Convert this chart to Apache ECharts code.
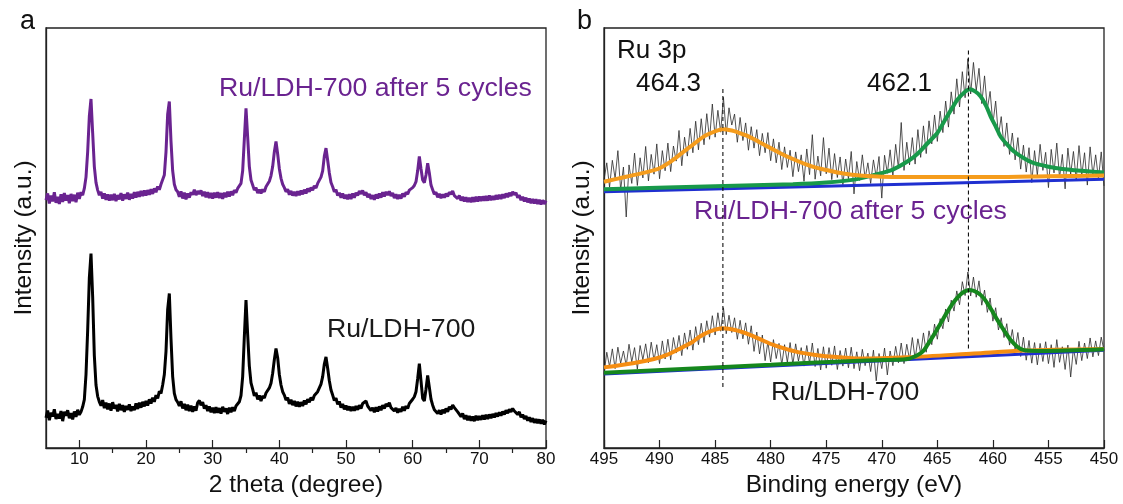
<!DOCTYPE html>
<html>
<head>
<meta charset="utf-8">
<script src="https://cdn.jsdelivr.net/npm/echarts@6/dist/echarts.min.js"></script>
<style>
  html, body { margin: 0; padding: 0; background: #fff; }
  #chart { width: 1123px; height: 504px; }
</style>
</head>
<body>
<div id="chart"></div>
<script type="text/javascript">
// ---- panel a: XRD, 2 theta from 5 to 80 every 0.25 deg (intensity in % of plot height)
var xrdStart = 5, xrdStep = 0.25;
var xrdAfter = [
  59.0, 60.6, 58.2, 60.1, 58.7, 60.9, 58.4, 59.8, 58.1, 60.4, 58.6, 60.7, 58.9, 60.2, 58.3, 60.5, 58.8, 60.3, 58.5, 60.8,
  59.3, 60.9, 60.2, 61.8, 64.5, 70.5, 79.0, 83.1, 75.0, 67.0, 63.2, 61.4, 60.2, 61.0, 59.4, 60.6, 59.1, 60.4, 58.9, 60.3,
  59.0, 60.5, 58.8, 60.2, 59.2, 60.7, 58.9, 60.4, 59.3, 60.8, 59.1, 60.5, 59.4, 60.9, 59.6, 61.0, 59.8, 61.2, 60.0, 61.3,
  60.1, 61.4, 60.3, 61.6, 60.5, 61.8, 60.9, 62.3, 61.5, 62.8, 62.6, 65.0, 70.5, 79.5, 82.5, 73.0, 66.0, 62.8, 61.5, 61.0,
  59.8, 61.1, 59.4, 60.8, 59.2, 60.6, 59.6, 60.9, 60.3, 61.5, 60.2, 61.2, 60.5, 61.3, 60.0, 61.0, 59.7, 60.9, 59.5, 60.7,
  59.4, 60.8, 59.6, 60.9, 59.5, 60.7, 59.3, 60.8, 59.7, 61.0, 59.9, 61.1, 60.2, 61.4, 60.8, 61.8, 61.6, 63.0, 66.0, 73.5,
  80.9, 74.0, 67.0, 63.8, 62.6, 61.4, 62.0, 60.7, 61.5, 60.6, 61.6, 61.0, 62.2, 62.3, 63.5, 64.8, 67.0, 70.5, 73.0, 70.0,
  66.5, 64.2, 62.8, 62.0, 61.0, 61.6, 60.3, 61.2, 60.1, 61.0, 60.0, 61.1, 60.2, 61.3, 60.4, 61.5, 60.6, 61.8, 61.0, 62.0,
  61.4, 62.4, 61.9, 63.0, 63.2, 64.5, 66.0, 69.5, 71.4, 68.5, 65.5, 63.2, 62.2, 61.0, 61.5, 60.1, 60.8, 59.6, 60.6, 59.4,
  60.3, 59.2, 60.4, 59.3, 60.6, 59.6, 60.8, 60.1, 61.2, 60.5, 61.3, 60.2, 60.9, 59.7, 60.5, 59.3, 60.2, 59.1, 60.4, 59.4,
  60.6, 59.6, 60.9, 59.9, 61.0, 60.2, 61.1, 60.0, 60.7, 59.5, 60.4, 59.3, 60.3, 59.4, 60.6, 59.8, 60.9, 60.4, 61.4, 61.3,
  62.0, 62.5, 63.4, 66.0, 69.4, 66.5, 63.8, 63.2, 65.0, 67.8, 65.5, 62.6, 61.5, 60.4, 60.9, 59.7, 60.5, 59.5, 60.4, 59.6,
  60.6, 59.9, 60.9, 60.4, 61.2, 60.1, 60.5, 59.4, 60.1, 58.9, 59.8, 58.7, 59.7, 58.6, 59.6, 58.5, 59.7, 58.6, 59.8, 58.7,
  59.9, 58.8, 59.9, 58.9, 60.0, 58.9, 60.1, 59.0, 60.0, 59.1, 60.2, 59.2, 60.3, 59.3, 60.4, 59.5, 60.6, 59.7, 60.8, 60.0,
  61.0, 60.3, 60.8, 59.6, 60.2, 59.0, 59.8, 58.7, 59.6, 58.5, 59.4, 58.3, 59.3, 58.2, 59.2, 58.1, 59.1, 58.0, 59.0, 58.1,
  58.9
];
var xrdFresh = [
  7.2, 8.9, 6.6, 8.4, 7.5, 9.2, 6.9, 8.1, 7.0, 8.8, 6.4, 8.6, 7.7, 9.0, 7.1, 8.3, 6.8, 8.7, 7.4, 9.1,
  7.9, 8.6, 9.8, 11.5, 17.5, 28.0, 40.5, 46.3, 36.0, 22.0, 15.0, 12.3, 11.0, 10.1, 11.4, 9.5, 10.8, 9.2, 10.6, 8.9,
  10.9, 9.4, 10.3, 8.7, 10.5, 9.0, 10.2, 8.6, 10.0, 9.1, 10.4, 8.8, 9.9, 9.0, 10.6, 9.3, 10.8, 9.6, 11.0, 9.9,
  11.2, 10.1, 11.6, 10.6, 12.0, 11.0, 12.6, 11.8, 13.5, 13.0, 15.0, 17.5, 23.0, 33.0, 36.8, 26.0, 17.0, 13.0, 11.5, 10.9,
  10.0, 11.1, 9.4, 10.5, 9.0, 10.3, 8.8, 10.1, 8.6, 9.9, 8.9, 10.8, 11.3, 10.2, 10.9, 9.4, 10.2, 8.8, 9.9, 8.5,
  9.6, 8.3, 9.7, 8.4, 9.5, 8.2, 9.8, 8.6, 9.4, 8.1, 9.6, 8.5, 9.7, 8.8, 10.0, 9.6, 11.0, 12.5, 17.0, 26.5,
  35.2, 27.0, 19.5, 15.5, 14.0, 12.4, 13.2, 11.6, 12.5, 11.2, 12.4, 11.9, 13.1, 13.0, 14.3, 15.4, 17.8, 21.0, 23.7, 21.5,
  17.5, 15.0, 13.4, 12.6, 11.4, 12.0, 10.5, 11.5, 10.2, 11.2, 9.9, 11.0, 9.8, 10.9, 10.0, 11.3, 10.4, 11.6, 10.9, 12.0,
  11.4, 12.5, 12.2, 13.4, 13.8, 15.2, 17.0, 20.0, 21.7, 19.0, 16.0, 13.8, 12.6, 11.3, 11.9, 10.4, 11.1, 9.6, 10.5, 9.2,
  10.1, 9.0, 9.9, 8.8, 9.8, 8.9, 10.0, 9.1, 10.2, 9.4, 10.6, 10.3, 11.2, 10.0, 10.4, 8.9, 9.6, 8.5, 9.7, 8.7,
  9.9, 9.0, 10.2, 9.4, 10.5, 9.9, 10.8, 9.6, 10.0, 8.8, 9.5, 8.4, 9.3, 8.6, 9.8, 8.9, 10.0, 9.4, 10.6, 10.5,
  11.6, 12.2, 13.4, 16.5, 20.1, 16.0, 11.8, 11.2, 14.0, 17.3, 14.5, 11.6, 10.2, 9.1, 9.3, 8.2, 9.0, 8.0, 9.1, 8.3,
  9.4, 8.6, 9.8, 9.2, 10.2, 9.6, 10.0, 8.6, 8.9, 7.5, 8.2, 6.9, 7.8, 6.6, 7.6, 6.5, 7.5, 6.4, 7.7, 6.6,
  7.6, 6.7, 7.8, 6.8, 7.9, 6.9, 8.0, 7.1, 8.1, 7.3, 8.3, 7.5, 8.5, 7.7, 8.7, 8.0, 9.0, 8.3, 9.2, 8.6,
  9.4, 8.8, 9.1, 8.0, 8.6, 7.3, 8.0, 6.9, 7.6, 6.5, 7.3, 6.2, 7.1, 6.0, 6.9, 5.9, 6.8, 5.8, 6.7, 5.6,
  6.5
];
var xrdMajorTicks = [10, 20, 30, 40, 50, 60, 70, 80];
var xrdMinorTicks = [15, 25, 35, 45, 55, 65, 75];

// ---- panel b: XPS Ru 3p, binding energy from 495 down to 450 every 0.25 eV
var xpsStart = 495, xpsStep = -0.25;
var xpsAfter = [
  63.8, 67.9, 62.1, 68.5, 64.2, 70.8, 61.5, 66.9, 55.0, 67.4, 63.0, 70.2, 62.5, 69.1, 64.3, 71.8, 63.6, 69.9, 65.2, 72.4,
  64.1, 70.8, 66.0, 72.6, 65.8, 71.9, 68.3, 75.6, 67.2, 74.0, 69.5, 76.1, 70.3, 77.8, 71.0, 78.4, 72.2, 79.6, 73.5, 81.9,
  74.0, 80.4, 75.2, 83.5, 74.6, 81.0, 76.9, 79.5, 72.8, 78.7, 73.2, 77.4, 70.9, 76.5, 71.4, 75.8, 69.6, 74.9, 70.3, 75.1,
  68.4, 73.6, 67.9, 72.8, 66.3, 71.7, 66.8, 70.9, 64.6, 70.5, 65.8, 69.8, 63.5, 71.2, 65.1, 74.6, 64.0, 69.5, 64.8, 73.9,
  65.3, 71.4, 63.9, 70.1, 64.4, 69.3, 62.7, 68.8, 64.1, 70.6, 60.5, 68.2, 63.7, 69.8, 64.2, 67.9, 63.0, 68.6, 64.5, 69.4,
  59.5, 69.7, 65.4, 71.0, 64.8, 72.3, 66.6, 77.5, 66.1, 72.8, 67.4, 73.9, 67.6, 75.8, 69.2, 76.7, 70.1, 77.9, 72.4, 79.3,
  73.0, 80.2, 75.1, 82.6, 76.4, 84.8, 79.5, 87.9, 81.2, 89.6, 83.4, 92.7, 84.3, 91.8, 85.1, 90.4, 82.0, 88.6, 80.7, 84.9,
  77.2, 82.6, 74.3, 78.9, 71.8, 77.4, 69.9, 75.0, 68.6, 73.9, 66.4, 72.1, 65.7, 71.5, 63.2, 70.8, 64.9, 72.3, 66.1, 70.4,
  62.0, 71.1, 65.5, 72.6, 64.3, 69.9, 61.7, 71.4, 65.2, 70.6, 63.8, 72.0, 64.9, 70.3, 62.6, 71.7, 65.0, 69.8, 64.1, 70.5,
  62.4
];
var xpsFresh = [
  17.5, 22.8, 19.4, 23.6, 18.9, 24.0, 20.2, 23.1, 19.6, 24.7, 20.5, 23.9, 18.8, 24.4, 21.0, 24.8, 20.3, 25.2, 20.9, 24.6,
  20.1, 25.5, 21.2, 25.9, 21.0, 26.3, 22.6, 26.8, 22.0, 27.4, 23.5, 28.1, 23.3, 28.9, 24.6, 29.7, 25.1, 30.3, 26.4, 31.5,
  26.9, 32.2, 27.8, 33.4, 27.2, 31.6, 27.5, 31.0, 25.9, 30.4, 26.0, 29.8, 24.7, 29.1, 23.0, 27.6, 22.4, 26.9, 20.8, 25.3,
  20.5, 25.8, 21.3, 24.9, 19.8, 24.6, 20.4, 25.1, 19.9, 24.8, 20.7, 23.9, 19.5, 24.4, 20.2, 25.0, 19.4, 23.7, 18.6, 24.1,
  19.0, 23.9, 19.7, 24.3, 18.7, 23.2, 19.5, 23.8, 19.1, 24.0, 18.9, 22.9, 18.4, 23.5, 19.6, 22.6, 18.2, 23.3, 16.0, 22.5,
  18.9, 23.8, 17.4, 23.1, 19.6, 24.2, 20.3, 25.0, 20.1, 24.7, 21.0, 26.3, 21.2, 26.0, 22.5, 27.4, 22.8, 27.9, 24.6, 29.5,
  25.9, 30.8, 28.4, 33.1, 30.0, 35.2, 32.6, 37.4, 34.1, 39.6, 36.3, 41.9, 36.2, 40.7, 35.9, 39.8, 34.0, 37.6, 32.3, 35.7,
  30.2, 33.4, 28.1, 31.0, 26.3, 29.6, 24.5, 28.2, 23.4, 27.5, 21.8, 26.4, 20.9, 25.6, 20.2, 25.1, 19.8, 24.9, 20.6, 25.3,
  20.1, 24.6, 19.2, 25.8, 20.4, 24.1, 18.7, 24.5, 16.9, 23.8, 19.9, 25.4, 20.8, 25.0, 21.3, 26.2, 21.7, 25.5, 22.0, 26.4,
  23.2
];
// fitted components, [binding energy, intensity]
var fitAfterBase = [[495, 61.0], [450, 64.0]];
var fitAfterPeak1 = [[495, 63.4], [493, 64.6], [491, 65.8], [490, 66.6], [489, 68.2], [488, 70.2], [487, 72.2], [486, 74.2],
  [485, 75.4], [484.3, 75.9], [483.5, 75.6], [483, 75.2], [482, 74.2], [481, 72.8], [480, 71.4], [479, 70.0], [478, 68.8],
  [477, 67.7], [476, 66.8], [475, 66.2], [474, 65.6], [473, 65.2], [472, 64.9], [470, 64.6], [465, 64.5], [460, 64.5],
  [455, 64.7], [450, 64.9]];
var fitAfterPeak2 = [[495, 61.6], [485, 62.3], [478, 62.8], [475, 63.2], [472.5, 63.9], [470.7, 65.0], [469, 66.3],
  [467.7, 68.2], [466.8, 70.0], [465.9, 72.5], [465, 75.0], [464.4, 77.7], [463.7, 80.8], [463.2, 82.9], [462.6, 84.6],
  [462.1, 85.4], [461.6, 84.9], [461.1, 83.7], [460.6, 81.4], [460.2, 78.9], [459.7, 76.3], [459.3, 74.1], [458.7, 72.2],
  [458.1, 70.6], [457.2, 69.0], [456.3, 67.8], [455.2, 67.1], [454.2, 66.6], [452.1, 66.0], [450, 65.6]];
var fitFreshBase = [[495, 17.6], [450, 23.3]];
var fitFreshPeak1 = [[495, 19.2], [492.4, 20.2], [490.5, 21.2], [489.4, 22.1], [488, 23.9], [487, 25.3], [486.4, 26.5],
  [485.4, 27.8], [484.3, 28.5], [483.2, 28.1], [481.8, 26.9], [480.7, 25.6], [479.7, 24.5], [478.5, 23.5], [477.3, 22.7],
  [475.8, 22.1], [474.3, 21.7], [471.9, 21.3], [467.7, 21.6], [461.7, 22.5], [457.2, 23.2], [450, 23.6]];
var fitFreshPeak2 = [[495, 17.9], [480, 19.8], [473.7, 20.6], [469, 21.0], [467.7, 21.2], [466.8, 22.1], [466.3, 23.0],
  [465.9, 24.5], [465.3, 27.0], [464.7, 29.7], [464.1, 32.4], [463.5, 34.8], [462.8, 36.8], [462.1, 37.6], [461.4, 37.0],
  [460.8, 35.6], [460.2, 33.2], [459.6, 30.5], [459, 28.0], [458.4, 25.7], [457.8, 24.1], [457.2, 23.3], [455.7, 23.1],
  [450, 23.5]];
var peakLines = [484.3, 462.2];
var peakLineSpan = [[14.5, 85.5], [23.7, 94.8]];

var font = 'Liberation Sans, Arial, Helvetica, sans-serif';
var purple = '#6a2390';

function toPairs(vals, start, step) {
  return vals.map(function (v, i) { return [start + i * step, v]; });
}

var chart = echarts.init(document.getElementById('chart'));

var axisTitle = { fontFamily: font, fontSize: 24.5, color: '#111' };
var yAxisCommon = {
  type: 'value', min: 0, max: 100,
  name: 'Intensity (a.u.)', nameLocation: 'middle', nameGap: 9, nameTextStyle: axisTitle,
  axisLine: { show: true, lineStyle: { color: '#222', width: 1.3 } },
  axisTick: { show: false }, axisLabel: { show: false }, splitLine: { show: false }
};

var dashSeries = peakLines.map(function (x, i) {
  return {
    type: 'line', xAxisIndex: 2, yAxisIndex: 1, symbol: 'none', z: 5,
    data: [[x, peakLineSpan[i][0]], [x, peakLineSpan[i][1]]],
    lineStyle: { color: '#111', width: 1.1, type: [4, 3] }
  };
});

var option = {
  animation: false,
  backgroundColor: '#fff',
  grid: [
    { left: 46, right: 577, top: 28, height: 420, show: true, borderColor: '#222', borderWidth: 1.3 },
    { left: 604, right: 19, top: 28, height: 420, show: true, borderColor: '#222', borderWidth: 1.3 }
  ],
  xAxis: [
    {
      type: 'value', gridIndex: 0, min: 5, max: 80, interval: 5,
      name: '2 theta (degree)', nameLocation: 'middle', nameGap: 21, nameTextStyle: axisTitle,
      axisLine: { show: true, onZero: false, lineStyle: { color: '#222', width: 1.3 } },
      axisTick: { inside: true, length: 8, customValues: xrdMajorTicks, lineStyle: { color: '#222', width: 1.2 } },
      axisLabel: { customValues: xrdMajorTicks, margin: 3, fontFamily: font, fontSize: 17, color: '#111' },
      splitLine: { show: false }
    },
    {
      type: 'value', gridIndex: 0, min: 5, max: 80, interval: 5,
      axisLine: { show: false },
      axisTick: { inside: true, length: 5, customValues: xrdMinorTicks, lineStyle: { color: '#222', width: 1.2 } },
      axisLabel: { show: false }, splitLine: { show: false }
    },
    {
      type: 'value', gridIndex: 1, min: 450, max: 495, interval: 5, inverse: true,
      name: 'Binding energy (eV)', nameLocation: 'middle', nameGap: 21, nameTextStyle: axisTitle,
      axisLine: { show: true, onZero: false, lineStyle: { color: '#222', width: 1.3 } },
      axisTick: { inside: true, length: 8, lineStyle: { color: '#222', width: 1.2 } },
      axisLabel: { margin: 3, fontFamily: font, fontSize: 17, color: '#111',
        showMinLabel: true, showMaxLabel: true },
      splitLine: { show: false }
    }
  ],
  yAxis: [
    Object.assign({ gridIndex: 0 }, yAxisCommon),
    Object.assign({ gridIndex: 1 }, yAxisCommon)
  ],
  series: [
    { type: 'line', xAxisIndex: 0, yAxisIndex: 0, symbol: 'none', data: toPairs(xrdAfter, xrdStart, xrdStep),
      lineStyle: { color: purple, width: 3 } },
    { type: 'line', xAxisIndex: 0, yAxisIndex: 0, symbol: 'none', data: toPairs(xrdFresh, xrdStart, xrdStep),
      lineStyle: { color: '#000', width: 3 } },

    { type: 'line', xAxisIndex: 2, yAxisIndex: 1, symbol: 'none', data: toPairs(xpsAfter, xpsStart, xpsStep),
      lineStyle: { color: '#2a2a2a', width: 0.8 } },
    { type: 'line', xAxisIndex: 2, yAxisIndex: 1, symbol: 'none', data: toPairs(xpsFresh, xpsStart, xpsStep),
      lineStyle: { color: '#2a2a2a', width: 0.8 } },

    { type: 'line', xAxisIndex: 2, yAxisIndex: 1, symbol: 'none', data: fitAfterBase, z: 3,
      lineStyle: { color: '#1f2fd0', width: 3 } },
    { type: 'line', xAxisIndex: 2, yAxisIndex: 1, symbol: 'none', data: fitAfterPeak2, smooth: 0.3, z: 3,
      lineStyle: { color: '#18994a', width: 4 } },
    { type: 'line', xAxisIndex: 2, yAxisIndex: 1, symbol: 'none', data: fitAfterPeak1, smooth: 0.3, z: 4,
      lineStyle: { color: '#f59c1c', width: 4 } },

    { type: 'line', xAxisIndex: 2, yAxisIndex: 1, symbol: 'none', data: fitFreshBase, z: 3,
      lineStyle: { color: '#1f2fd0', width: 3 } },
    { type: 'line', xAxisIndex: 2, yAxisIndex: 1, symbol: 'none', data: fitFreshPeak1, smooth: 0.3, z: 3,
      lineStyle: { color: '#f58d12', width: 4 } },
    { type: 'line', xAxisIndex: 2, yAxisIndex: 1, symbol: 'none', data: fitFreshPeak2, smooth: 0.3, z: 4,
      lineStyle: { color: '#15871d', width: 4 } }
  ].concat(dashSeries),
  graphic: [
    { type: 'text', x: 20, y: 22, style: { text: 'a', font: '27px ' + font, fill: '#111', verticalAlign: 'middle' } },
    { type: 'text', x: 577, y: 22, style: { text: 'b', font: '27px ' + font, fill: '#111', verticalAlign: 'middle' } },
    { type: 'text', x: 219, y: 89, style: { text: 'Ru/LDH-700 after 5 cycles', font: '26.7px ' + font, fill: purple, verticalAlign: 'middle' } },
    { type: 'text', x: 327, y: 330, style: { text: 'Ru/LDH-700', font: '26.7px ' + font, fill: '#1a1a1a', verticalAlign: 'middle' } },
    { type: 'text', x: 617, y: 51, style: { text: 'Ru 3p', font: '26px ' + font, fill: '#111', verticalAlign: 'middle' } },
    { type: 'text', x: 636, y: 84, style: { text: '464.3', font: '26px ' + font, fill: '#111', verticalAlign: 'middle' } },
    { type: 'text', x: 867, y: 84, style: { text: '462.1', font: '26px ' + font, fill: '#111', verticalAlign: 'middle' } },
    { type: 'text', x: 694, y: 212, style: { text: 'Ru/LDH-700 after 5 cycles', font: '26.7px ' + font, fill: purple, verticalAlign: 'middle' } },
    { type: 'text', x: 771, y: 393, style: { text: 'Ru/LDH-700', font: '26.7px ' + font, fill: '#1a1a1a', verticalAlign: 'middle' } }
  ]
};

chart.setOption(option);
</script>
</body>
</html>
